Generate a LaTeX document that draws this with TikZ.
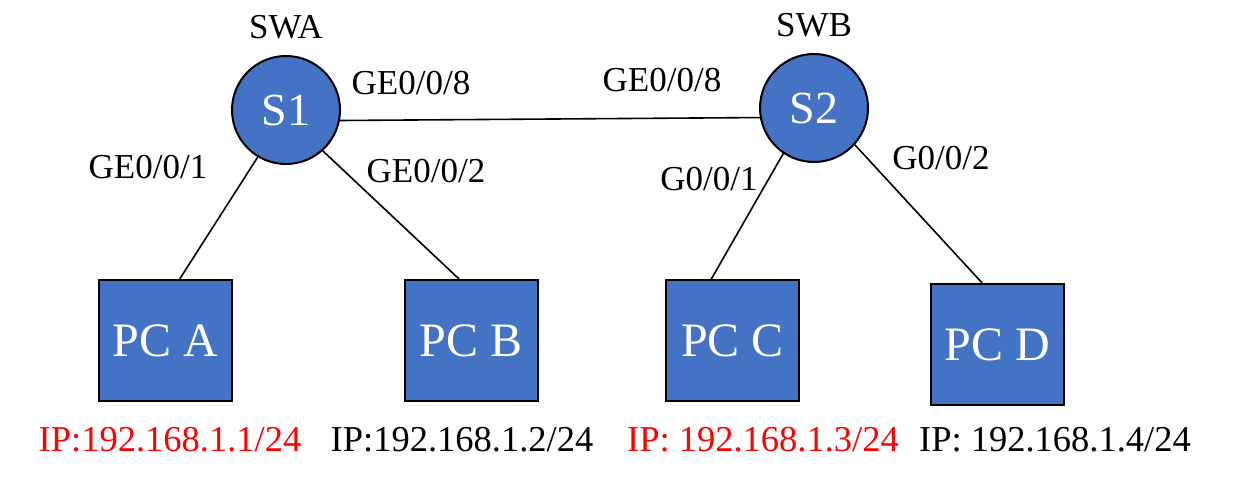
\documentclass[tikz,border=0pt]{standalone}
\usepackage{fontspec}
\setmainfont{Liberation Serif}
\usetikzlibrary{positioning}
\definecolor{netBlue}{HTML}{4472C4}
\definecolor{netRed}{HTML}{FF0000}
\tikzset{
	netSwitch/.style={
		circle,
		draw,
		line width=2pt,
		fill=netBlue,
		text=white,
		minimum size=108pt,
		inner sep=0pt,
		font=\fontsize{46}{50}\selectfont
	},
	netPC/.style={
		rectangle,
		draw,
		line width=2pt,
		fill=netBlue,
		text=white,
		minimum width=133pt,
		minimum height=121pt,
		inner sep=0pt,
		font=\fontsize{48}{52}\selectfont
	},
	netName/.style={inner sep=0pt, font=\fontsize{35}{40}\selectfont},
	netPort/.style={inner sep=0pt, font=\fontsize{35}{40}\selectfont},
	netIP/.style={inner sep=0pt, font=\fontsize{36.5}{42}\selectfont},
	netIPon/.style={netIP, text=netRed},
	netLink/.style={line width=1.6pt}
}
\begin{document}
\begin{tikzpicture}[x=1pt,y=-1pt]
	\useasboundingbox (0,0) rectangle (1241,482);

	% Switches
	\node[netSwitch] (S1) at (286,110) {S1};
	\node[netSwitch] (S2) at (814,108) {S2};
	\node[netName, above=16pt of S1] (swa) {SWA};
	\node[netName, above=16pt of S2] (swb) {SWB};

	% Hosts
	\node[netPC] (pcA) at (165.5,340.5) {PC A};
	\node[netPC] (pcB) at (471,340.5) {PC B};
	\node[netPC] (pcC) at (732.5,340.5) {PC C};
	\node[netPC] (pcD) at (997.5,344.5) {PC D};

	% Port labels
	\node[netPort] (p1a) at (148,167) {GE0/0/1};
	\node[netPort] (p2a) at (426,171) {GE0/0/2};
	\node[netPort] (p8a) at (411,83) {GE0/0/8};
	\node[netPort] (p8b) at (662,80) {GE0/0/8};
	\node[netPort] (p1b) at (709,179) {G0/0/1};
	\node[netPort] (p2b) at (941,158) {G0/0/2};

	% Addresses
	\node[netIPon] (ipA) at (170,440) {IP:192.168.1.1/24};
	\node[netIP] (ipB) at (462,440) {IP:192.168.1.2/24};
	\node[netIPon] (ipC) at (763,440) {IP: 192.168.1.3/24};
	\node[netIP] (ipD) at (1055,440) {IP: 192.168.1.4/24};

	% Links
	\draw[netLink] (S1.-11) -- (S2.190);
	\draw[netLink] (S1.239) -- (pcA.77);
	\draw[netLink] (S1.-48) -- (pcB.101);
	\draw[netLink] (S2.236) -- (pcC.109);
	\draw[netLink] (S2.-42) -- (pcD.104);

\end{tikzpicture}
\end{document}
